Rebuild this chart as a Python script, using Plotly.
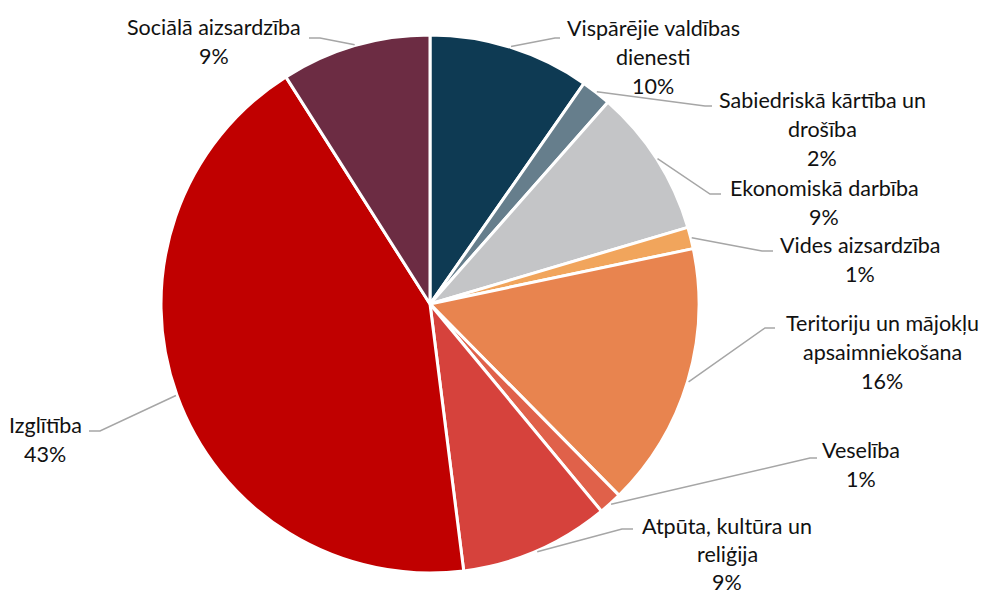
import math
import plotly.graph_objects as go

# ---- data ----
categories = [
    "Vispārējie valdības dienesti",
    "Sabiedriskā kārtība un drošība",
    "Ekonomiskā darbība",
    "Vides aizsardzība",
    "Teritoriju un mājokļu apsaimniekošana",
    "Veselība",
    "Atpūta, kultūra un reliģija",
    "Izglītība",
    "Sociālā aizsardzība",
]
values = [9.7, 1.8, 8.9, 1.3, 15.9, 1.4, 9.0, 43.0, 9.0]
label_lines = [
    ["Vispārējie valdības", "dienesti"],
    ["Sabiedriskā kārtība un", "drošība"],
    ["Ekonomiskā darbība"],
    ["Vides aizsardzība"],
    ["Teritoriju un mājokļu", "apsaimniekošana"],
    ["Veselība"],
    ["Atpūta, kultūra un", "reliģija"],
    ["Izglītība"],
    ["Sociālā aizsardzība"],
]
colors = ["#0E3A53", "#667E8C", "#C4C5C7", "#F1A55C", "#E8844F",
          "#E0614A", "#D6423C", "#C00000", "#6C2C43"]

# ---- layout (pixels) ----
W, H = 988, 595
CX, CY, R = 430, 304, 269
# label placement: (elbow_x, elbow_y, end_x, text_center_x, first_line_center_y, line_step)
label_pos = [
    (555, 38, 560, 653, 28, 29),
    (705, 106, 712, 822, 100, 29),
    (710, 194, 721, 824, 188, 29),
    (762, 251, 773, 860, 245, 29),
    (765, 328, 775, 882, 323, 29),
    (810, 458, 817, 861, 450, 29),
    (622, 529, 633, 727, 526, 28),
    (100, 431, 89, 45, 425, 29),
    (320, 38, 309, 214, 27, 29),
]

def px(x):
    return x / W

def py(y):
    return 1 - y / H

fig = go.Figure(go.Pie(
    labels=categories,
    values=values,
    sort=False,
    direction="clockwise",
    rotation=0,
    textinfo="none",
    marker=dict(colors=colors, line=dict(color="white", width=3)),
    domain=dict(x=[px(CX - R), px(CX + R)], y=[py(CY + R), py(CY - R)]),
    showlegend=False,
    hoverinfo="label+percent",
))

total = sum(values)
cum = 0.0
shapes = []
annotations = []
for i, v in enumerate(values):
    mid = (cum + v / 2) / total * 2 * math.pi
    cum += v
    sx = CX + (R + 1) * math.sin(mid)
    sy = CY - (R + 1) * math.cos(mid)
    ex, ey, endx, tx, ty, step = label_pos[i]
    shapes.append(dict(
        type="path", xref="paper", yref="paper",
        path=f"M {px(sx)},{py(sy)} L {px(ex)},{py(ey)} L {px(endx)},{py(ey)}",
        line=dict(color="#A6A6A6", width=1.5),
    ))
    lines = label_lines[i] + [f"{round(v / total * 100)}%"]
    for j, t in enumerate(lines):
        annotations.append(dict(
            x=px(tx), y=py(ty + j * step), xref="paper", yref="paper",
            text=t, showarrow=False, xanchor="center", yanchor="middle",
            borderpad=0,
            font=dict(family="Lato, Open Sans, sans-serif", size=21.5, color="#111111"),
        ))

fig.update_layout(
    width=W, height=H,
    margin=dict(l=0, r=0, t=0, b=0),
    paper_bgcolor="white",
    plot_bgcolor="white",
    shapes=shapes,
    annotations=annotations,
)

fig.write_html(
    "out.html",
    config={"displayModeBar": False},
    post_script="document.body.style.margin='0';document.body.style.overflow='hidden';",
)
